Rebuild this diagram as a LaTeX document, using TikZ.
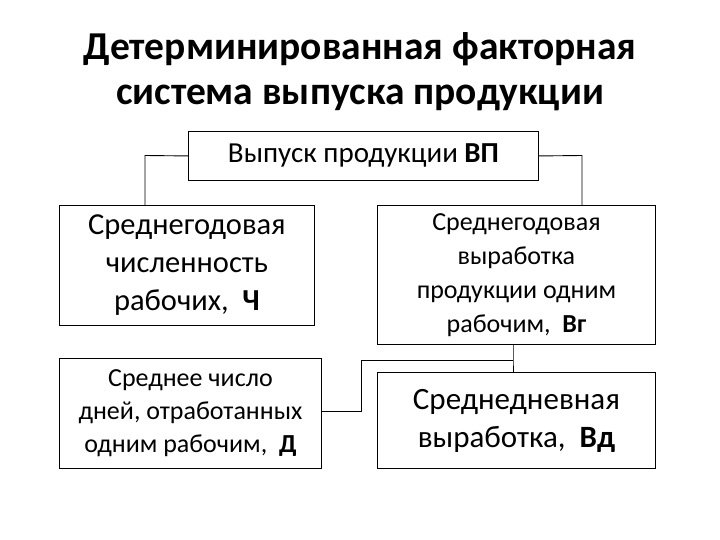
\documentclass[tikz,border=0pt]{standalone}
\usepackage{fontspec}
\setmainfont{Carlito}
\begin{document}
\begin{tikzpicture}[x=1pt,y=-1pt,
  bx/.style={draw,line width=0.9pt,align=center,inner sep=0pt,anchor=north west},
  ln/.style={line width=0.9pt}]
\useasboundingbox (0,0) rectangle (720,540);
\node (t) at (360,72) [align=center,font=\fontsize{39.5}{45}\selectfont\bfseries] {Детерминированная факторная\\система выпуска продукции};
\node[bx,minimum width=350pt,minimum height=49pt,font=\fontsize{29}{36}\selectfont] (vp) at (188,131) {Выпуск продукции \textbf{ВП}};
\node[bx,minimum width=255pt,minimum height=120pt,font=\fontsize{30.5}{38}\selectfont] (ch) at (59,205) {Среднегодовая\\численность\\рабочих,\ \ \textbf{Ч}};
\node[bx,minimum width=278pt,minimum height=139pt,font=\fontsize{26}{34}\selectfont] (vg) at (377,205) {Среднегодовая\\выработка\\продукции одним\\рабочим,\ \ \textbf{Вг}};
\node[bx,minimum width=262pt,minimum height=110pt,font=\fontsize{26}{33}\selectfont] (d) at (59,358) {Среднее число\\дней, отработанных\\одним рабочим,\ \ \textbf{Д}};
\node[bx,minimum width=278pt,minimum height=96pt,font=\fontsize{31}{38}\selectfont] (vd) at (377,372) {Среднедневная\\выработка,\ \ \textbf{Вд}};
\draw[ln] (vp.west) -- (145,155.5) -- (145,205);
\draw[ln] (vp.east) -- (582,155.5) -- (582,205);
\coordinate (j) at (513,360);
\draw[ln] (vg.south -| j) -- (j) -- (vd.north -| j);
\draw[ln] (j) -- (361,360) -- (361,411) -- (d.east |- 0,411);
\end{tikzpicture}
\end{document}
